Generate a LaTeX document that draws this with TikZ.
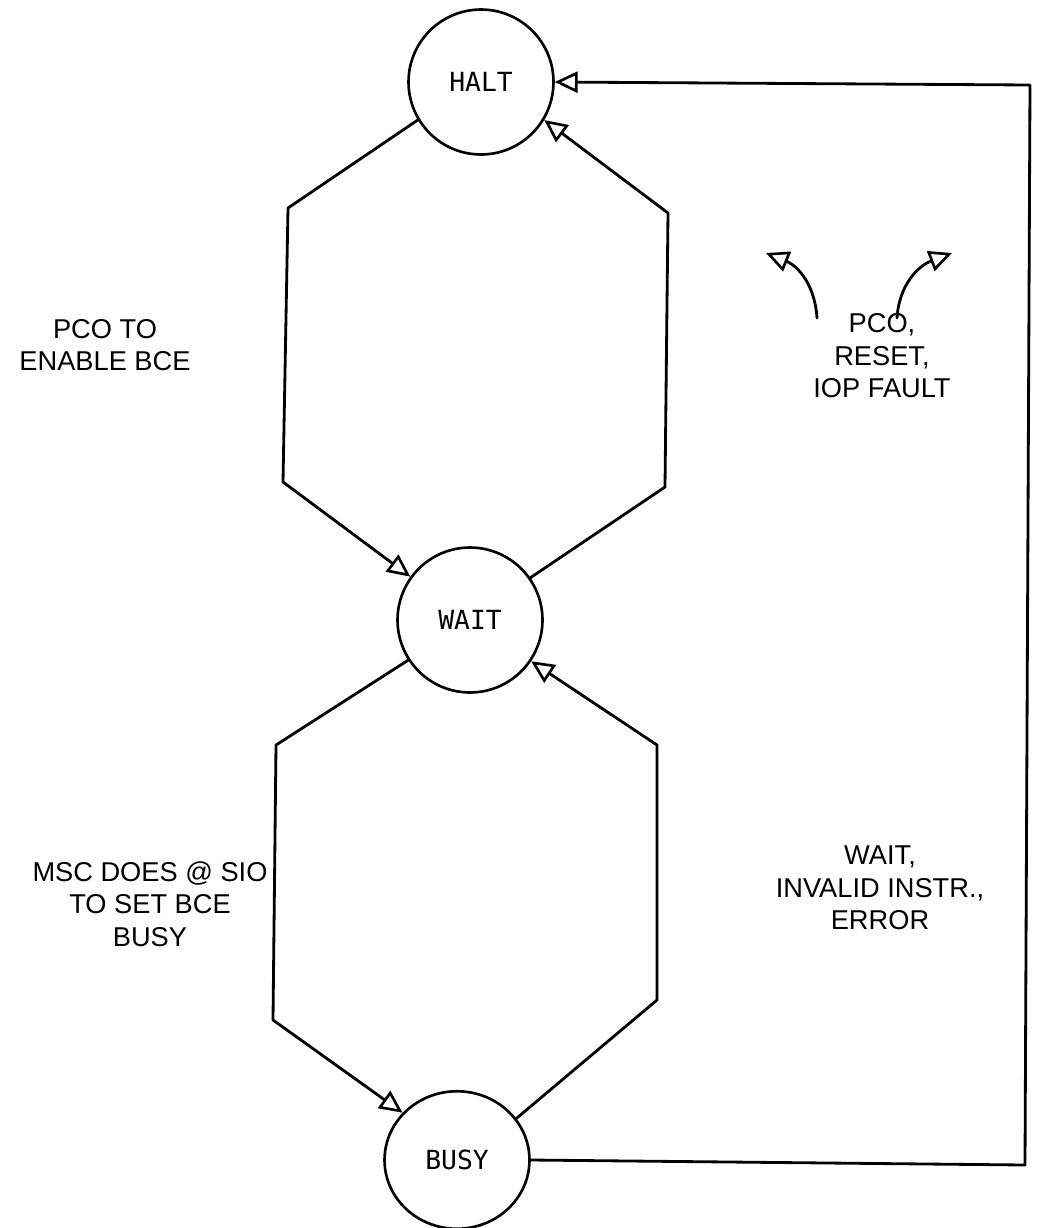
\documentclass[tikz,border=0pt]{standalone}
\usepackage{fontspec}
\setmainfont{Liberation Sans}
\newfontfamily\statefont{DejaVu Sans Mono}
\usetikzlibrary{arrows.meta, shapes.geometric}
\tikzset{
  state/.style={draw, circle, line width=1.5pt, minimum size=2.9cm, inner sep=0pt,
    font=\statefont\fontsize{15}{17}\selectfont},
  note/.style={align=center, font=\fontsize{15.5}{18.5}\selectfont},
  flow/.style={line width=1.6pt, line join=round}
}
\begin{document}
\begin{tikzpicture}[x=0.02cm, y=-0.02cm, line cap=round,
  >={Triangle[open, length=13pt, width=12pt, line width=1.5pt]}]
\useasboundingbox (0,0) rectangle (1042,1228);
% states
\node[state] (halt) at (481,82) {HALT};
\node[state] (wait) at (470,620) {WAIT};
\node[state, ellipse, minimum width=2.9cm, minimum height=2.75cm] (busy) at (457,1160) {BUSY};
% corners of the hexagons
\coordinate (hl1) at (288,208);
\coordinate (hl2) at (283,482);
\coordinate (hr1) at (665,487);
\coordinate (hr2) at (668,213);
\coordinate (wl1) at (276,745);
\coordinate (wl2) at (273,1020);
\coordinate (wr1) at (657,1000);
\coordinate (wr2) at (657,745);
% halt <-> wait
\draw[flow, ->] (halt.211) -- (hl1) -- (hl2) -- (wait.144);
\draw[flow, ->] (wait.35) -- (hr1) -- (hr2) -- (halt.329);
% wait <-> busy
\draw[flow, ->] (wait.213) -- (wl1) -- (wl2) -- (busy.139);
\draw[flow, ->] (busy.35) -- (wr1) -- (wr2) -- (wait.326);
% return path to halt
\coordinate (rb) at (1025,1165);
\coordinate (rt) at (1030,85);
\draw[flow, ->] (busy.east) -- (rb) -- (rt) -- (halt.east);
% labels
\node[note] (enable) at (105,345) {PCO TO\\ENABLE BCE};
\node[note] (msc) at (150,904) {MSC DOES @ SIO\\TO SET BCE\\BUSY};
\node[note] (pco) at (882,356) {PCO,\\RESET,\\IOP FAULT};
\node[note] (err) at (880,888) {WAIT,\\INVALID INSTR.,\\ERROR};
% small curved arrows
\coordinate (cl0) at (817,318);
\coordinate (cl1) at (766,253);
\coordinate (cr0) at (897,318);
\coordinate (cr1) at (952,253);
\draw[flow, ->] (cl0) .. controls (815,285) and (798,266) .. (cl1);
\draw[flow, ->] (cr0) .. controls (899,285) and (918,266) .. (cr1);
\end{tikzpicture}
\end{document}
